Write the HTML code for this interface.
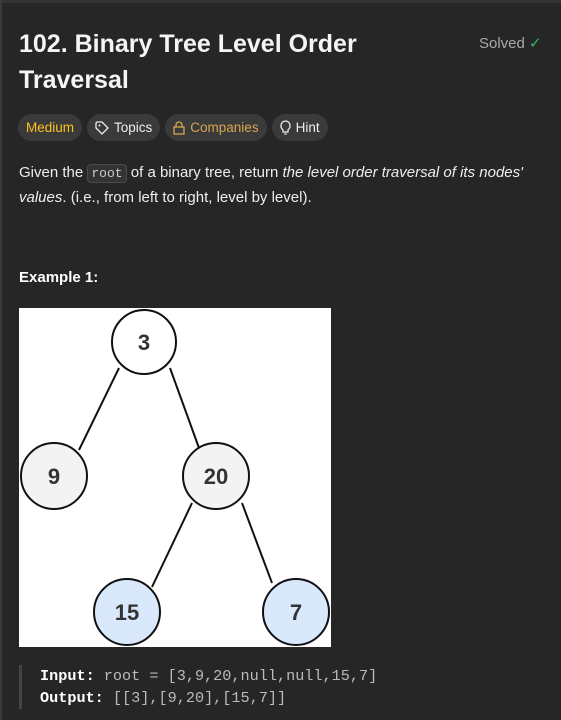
<!DOCTYPE html>
<html><head><meta charset="utf-8"><style>
html,body{margin:0;padding:0;}
body{width:561px;height:720px;background:#262626;overflow:hidden;position:relative;font-family:"Liberation Sans",sans-serif;color:#eee;}
.top{position:absolute;left:0;top:0;width:561px;height:3px;background:#333;}
.lb{position:absolute;left:0;top:0;width:2px;height:720px;background:#3a3a3a;}
h1{position:absolute;left:19px;top:26px;margin:0;font-size:25px;line-height:36px;font-weight:bold;color:#f5f5f5;width:420px;}
.solved{position:absolute;left:479px;top:34px;font-size:15px;color:#a8a8a8;}
.tags{position:absolute;left:18px;top:114px;display:flex;gap:5px;}
.tag{height:27px;border-radius:14px;background:#3a3a3a;font-size:13.5px;line-height:27px;padding:0 8px;color:#eee;display:flex;align-items:center;gap:5px;}
.p{position:absolute;left:19px;top:161px;font-size:15px;line-height:24px;color:#eee;width:530px;}
code{font-family:"Liberation Mono",monospace;font-size:13px;background:#333;border:1px solid #4a4a4a;border-radius:4px;padding:1px 3px;color:#ccc;}
.ex{position:absolute;left:19px;top:269px;font-size:15px;font-weight:bold;color:#fff;}
.img{position:absolute;left:19px;top:308px;width:312px;height:339px;background:#fff;}
.code{position:absolute;left:19px;top:665px;border-left:3px solid #444;padding-left:18px;font-family:"Liberation Mono",monospace;font-size:15.2px;line-height:22px;color:#bbb;}
.code b{color:#fff;}
</style></head><body>
<div class="top"></div><div class="lb"></div>
<h1>102. Binary Tree Level Order Traversal</h1>
<div class="solved">Solved <span style="color:#2cbb5d">&#10003;</span></div>
<div class="tags">
<div class="tag" style="color:#ffc01e">Medium</div>
<div class="tag"><svg width="14" height="14" viewBox="0 0 14 14"><path d="M1 2v5l6 6 6-6-6-6H2z" fill="none" stroke="#eee" stroke-width="1.3"/><circle cx="4.5" cy="4.5" r="1" fill="#eee"/></svg>Topics</div>
<div class="tag" style="color:#d6a84e"><svg width="12" height="14" viewBox="0 0 12 14"><rect x="1" y="6" width="10" height="7" fill="none" stroke="#d6a84e" stroke-width="1.3"/><path d="M3 6V4a3 3 0 0 1 6 0v2" fill="none" stroke="#d6a84e" stroke-width="1.3"/></svg>Companies</div>
<div class="tag"><svg width="11" height="15" viewBox="0 0 11 15"><path d="M3 10C1 8 1 7 1 5.5a4.5 4.5 0 0 1 9 0C10 7 10 8 8 10v2H3z" fill="none" stroke="#eee" stroke-width="1.3"/><path d="M4 14h3" stroke="#eee"/></svg>Hint</div>
</div>
<div class="p">Given the <code>root</code> of a binary tree, return <i>the level order traversal of its nodes' values</i>. (i.e., from left to right, level by level).</div>
<div class="ex">Example 1:</div>
<div class="img"><svg width="312" height="339" viewBox="19 308 312 339" font-family="Liberation Sans" font-weight="bold" font-size="22" text-anchor="middle">
<g stroke="#111" stroke-width="2">
<line x1="119" y1="368" x2="79" y2="450"/><line x1="170" y1="368" x2="199" y2="448"/>
<line x1="192" y1="503" x2="152" y2="587"/><line x1="242" y1="503" x2="272" y2="583"/>
<circle cx="144" cy="342" r="32" fill="#fff"/>
<circle cx="54" cy="476" r="33" fill="#f3f3f3"/>
<circle cx="216" cy="476" r="33" fill="#f3f3f3"/>
<circle cx="127" cy="612" r="33" fill="#dae8fc"/>
<circle cx="296" cy="612" r="33" fill="#dae8fc"/>
</g>
<g fill="#333"><text x="144" y="350">3</text><text x="54" y="484">9</text><text x="216" y="484">20</text><text x="127" y="620">15</text><text x="296" y="620">7</text></g>
</svg></div>
<div class="code"><b>Input:</b> root = [3,9,20,null,null,15,7]<br><b>Output:</b> [[3],[9,20],[15,7]]</div>
</body></html>
